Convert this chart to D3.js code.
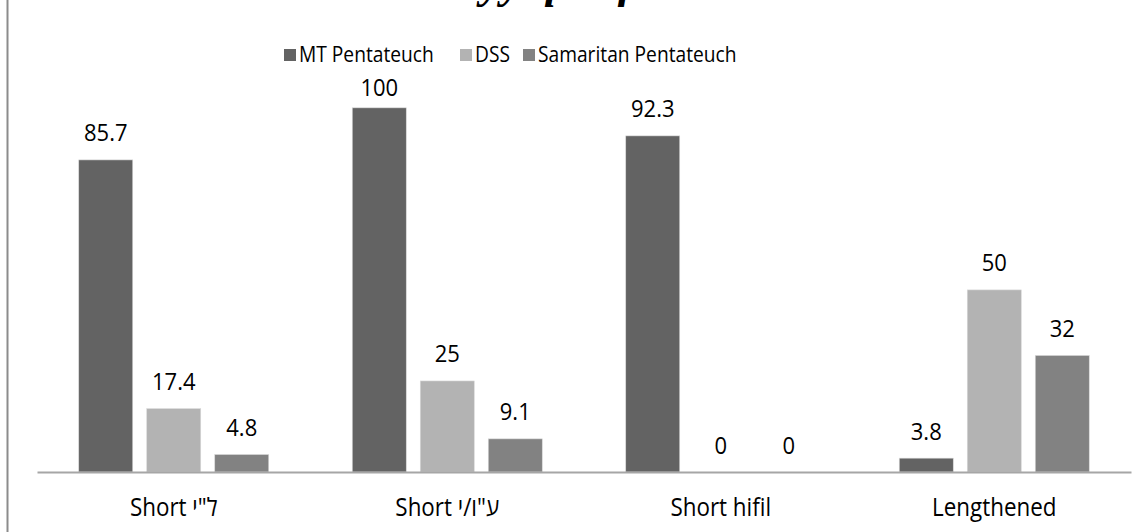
<!DOCTYPE html>
<html>
<head>
<meta charset="utf-8">
<script src="https://cdn.jsdelivr.net/npm/d3@7"></script>
<style>
  html, body { margin: 0; padding: 0; background: #fff; }
  svg { display: block; }
  text { font-family: "Open Sans", "Noto Sans", sans-serif; }
</style>
</head>
<body>
<svg id="chart" width="1147" height="532"></svg>
<script>
const categories = ['Short ל"י', 'Short ע"ו/י', 'Short hifil', 'Lengthened'];
const seriesNames = ['MT Pentateuch', 'DSS', 'Samaritan Pentateuch'];
const mtValues = [85.7, 100, 92.3, 3.8];
const dssValues = [17.4, 25, 0, 50];
const samValues = [4.8, 9.1, 0, 32];
const valueLabels = [
  ['85.7', '100', '92.3', '3.8'],
  ['17.4', '25', '0', '50'],
  ['4.8', '9.1', '0', '32']
];
const colors = ['#636363', '#b3b3b3', '#828282'];
const titleText = 'Wayyiqtol forms';

(function () {
const allValues = [mtValues, dssValues, samValues];
const svg = d3.select('#chart');
const W = 1147, H = 532;
const mLeft = 37, mRight = 1131, mTop = 35, mBottom = 472;
const vScale = 1.1;
const legendX = [284, 460, 523];
const labelMinBaseline = 96;

// left border
svg.append('line').attr('x1', 7.5).attr('x2', 7.5).attr('y1', 0).attr('y2', H)
  .attr('stroke', '#8c8c8c').attr('stroke-width', 2);

// title (clipped at top like the reference)
const title = svg.append('text').attr('x', 0).attr('y', -3)
  .style('font-family', '"Liberation Serif", serif')
  .attr('font-style', 'italic').attr('font-weight', 'bold')
  .attr('font-size', 46).attr('fill', '#000').text(titleText);
const yPos = title.node().getStartPositionOfChar(2).x;
title.attr('x', 481 - yPos);

const x0 = d3.scaleBand().domain(categories).range([mLeft, mRight]).padding(0);
const x1 = d3.scaleBand().domain(seriesNames).range([0, x0.bandwidth()])
  .paddingInner(0.206).paddingOuter(0.614);
const y = d3.scaleLinear().domain([0, 120]).range([mBottom, mTop]);

const data = [];
categories.forEach((c, ci) => {
  seriesNames.forEach((s, si) => {
    data.push({ c, s, si, v: allValues[si][ci], label: valueLabels[si][ci] });
  });
});

svg.append('g').selectAll('rect').data(data.filter(d => d.v > 0)).join('rect')
  .attr('x', d => x0(d.c) + x1(d.s))
  .attr('y', d => y(d.v))
  .attr('width', x1.bandwidth())
  .attr('height', d => y(0) - y(d.v))
  .attr('fill', d => colors[d.si])
  .attr('stroke', '#d9d9d9').attr('stroke-width', 0.6);

// axis
const xAxis = d3.axisBottom(x0).tickSize(0).tickPadding(0);
const ax = svg.append('g').attr('transform', `translate(0,${mBottom})`).call(xAxis);
ax.select('.domain').attr('stroke', '#a6a6a6').attr('stroke-width', 2);
ax.selectAll('.tick text')
  .attr('dy', null).attr('y', 0)
  .attr('transform', `translate(0,44) scale(1,${vScale})`)
  .attr('font-size', 22.4).attr('fill', '#000')
  .style('font-family', '"Open Sans", sans-serif');

// value labels
svg.append('g').selectAll('text').data(data).join('text')
  .attr('transform', d => `translate(${x0(d.c) + x1(d.s) + x1.bandwidth() / 2},${Math.max(y(d.v) - 18.5, labelMinBaseline)}) scale(1,${vScale})`)
  .attr('text-anchor', 'middle')
  .attr('font-size', 22).attr('fill', '#000')
  .text(d => d.label);

// legend
const leg = svg.append('g');
seriesNames.forEach((s, i) => {
  leg.append('rect').attr('x', legendX[i]).attr('y', 49).attr('width', 12).attr('height', 12)
    .attr('fill', colors[i]);
  leg.append('text')
    .attr('transform', `translate(${legendX[i] + 15},62) scale(1,${vScale})`)
    .attr('font-size', 19.2).attr('fill', '#000').text(s);
});
})();
</script>
</body>
</html>
